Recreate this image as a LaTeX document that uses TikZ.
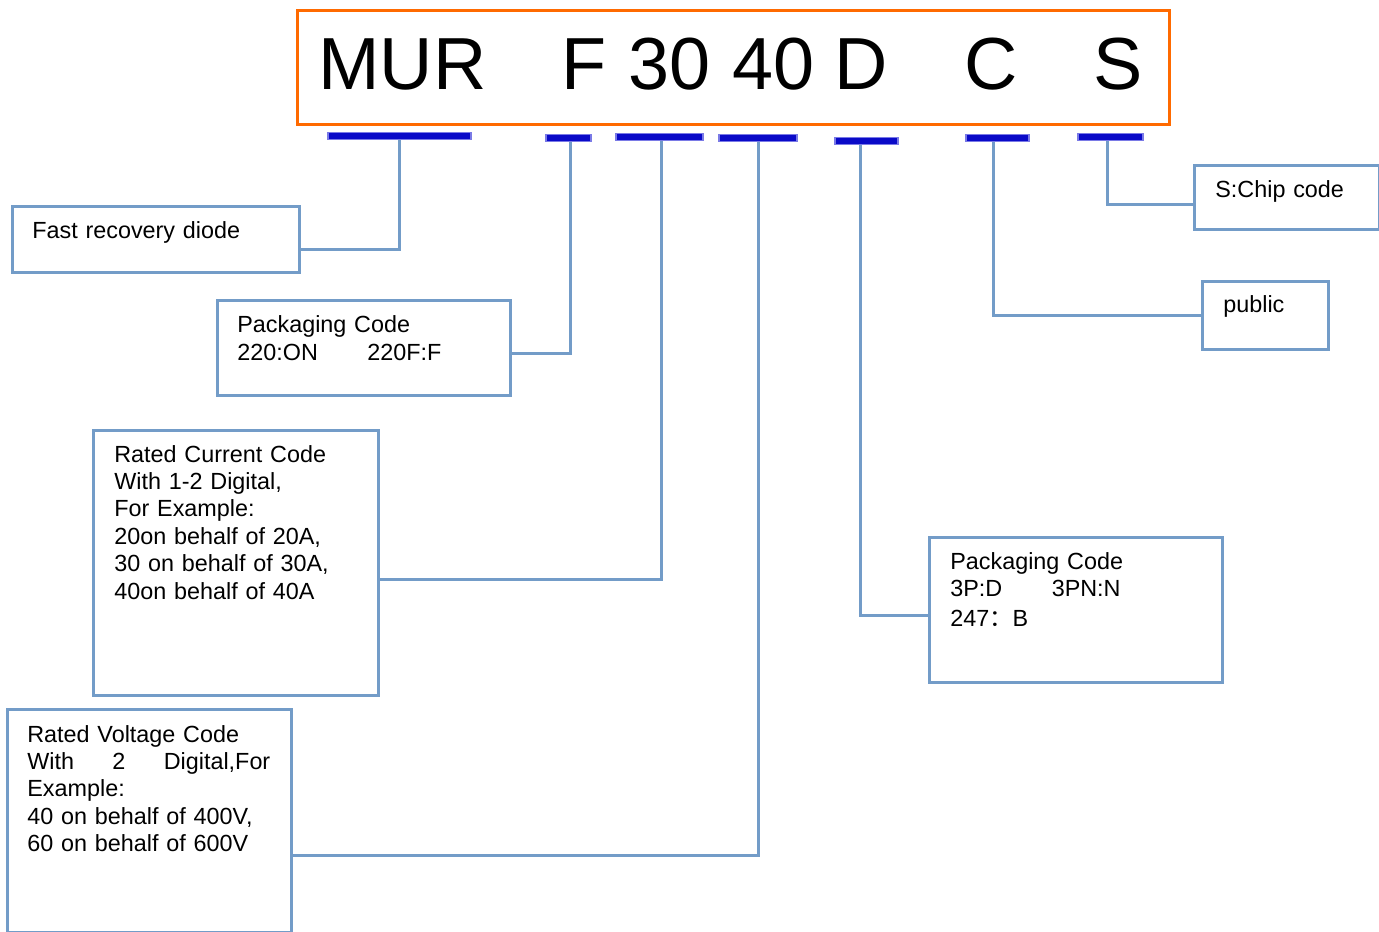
\documentclass[tikz,border=0pt]{standalone}
\usepackage{fontspec}
\setmainfont{Liberation Sans}
\newfontfamily\cjk{Noto Sans CJK SC}
\usetikzlibrary{positioning}
\definecolor{clrcode}{HTML}{FF6A00}
\definecolor{clrframe}{HTML}{739CC8}
\definecolor{clrbar}{HTML}{0A0AC8}
\definecolor{clrbaredge}{HTML}{7A7AE6}
\definecolor{clrtext}{HTML}{000000}

\begin{document}
\begin{tikzpicture}[
    x=0.02cm, y=-0.02cm,
    codebox/.style={draw=clrcode, line width=1.7pt, anchor=north west, inner sep=0pt},
    notebox/.style={draw=clrframe, line width=1.7pt, anchor=north west, inner sep=0pt},
    bar/.style={fill=clrbar, draw=clrbaredge, line width=0.8pt, inner sep=0pt, minimum height=0.15cm},
    link/.style={draw=clrframe, line width=1.7pt},
    codetext/.style={anchor=base west, inner sep=0pt, font=\fontsize{42}{50}\selectfont, text=clrtext},
    note/.style={anchor=base west, inner sep=0pt, text width=6cm, align=left,
                 font=\fontsize{13.3}{15.6}\selectfont, text=clrtext},
]
\useasboundingbox (0,0) rectangle (1379,932);
% part number
\node[codebox, minimum width=17.44cm, minimum height=2.28cm] (code) at (296,9) {};
\node[codetext] (tmur) at (318,90) {MUR};
\node[codetext] (tf) at (561,90) {F};
\node[codetext] (t30) at (628,90) {30};
\node[codetext] (t40) at (732,90) {40};
\node[codetext] (td) at (834,90) {D};
\node[codetext] (tc) at (964,90) {C};
\node[codetext] (ts) at (1093,90) {S};
% markers under the code
\node[bar, minimum width=2.86cm] (bmur) at (399.5,136) {};
\node[bar, minimum width=0.90cm] (bf) at (568.5,138) {};
\node[bar, minimum width=1.74cm] (b30) at (659.5,137) {};
\node[bar, minimum width=1.56cm] (b40) at (758,138) {};
\node[bar, minimum width=1.26cm] (bd) at (866.5,141) {};
\node[bar, minimum width=1.26cm] (bc) at (997.5,138) {};
\node[bar, minimum width=1.30cm] (bs) at (1110.5,137) {};
% note boxes
\node[notebox, minimum width=5.74cm, minimum height=1.32cm] (fastbox) at (11,205) {};
\node[note] (fasttxt) at (32,239) {Fast recovery diode};
\node[notebox, minimum width=5.86cm, minimum height=1.90cm] (pkgbox) at (216,299) {};
\node[note] (pkgtxt) at (237,333) {Packaging Code\\220:ON\hspace{0.99cm}220F:F};
\node[notebox, minimum width=5.70cm, minimum height=5.30cm] (curbox) at (92,429) {};
\node[note] (curtxt) at (114,462) {Rated Current Code\\With 1-2 Digital,\\For Example:\\20on behalf of 20A,\\30 on behalf of 30A,\\40on behalf of 40A};
\node[notebox, minimum width=5.68cm, minimum height=4.46cm] (voltbox) at (6,708) {};
\node[note] (volttxt) at (27,742) {Rated Voltage Code\\\makebox[4.86cm][l]{With\hfill 2\hfill Digital,For}\\Example:\\40 on behalf of 400V,\\60 on behalf of 600V};
\node[notebox, minimum width=5.86cm, minimum height=2.90cm] (pkg2box) at (928,536) {};
\node[note] (pkg2txt) at (950,569) {Packaging Code\\3P:D\hspace{0.99cm}3PN:N\\[1.5pt]247{\cjk ：}B};
\node[notebox, minimum width=2.52cm, minimum height=1.36cm] (pubbox) at (1201,280) {};
\node[note] (pubtxt) at (1223,313) {public};
\node[notebox, minimum width=3.70cm, minimum height=1.28cm] (chipbox) at (1193,164) {};
\node[note] (chiptxt) at (1215,198) {S:Chip code};
% connectors
\draw[link] (bmur.south) |- ([yshift=-0.2cm]fastbox.east);
\draw[link] ([xshift=0.03cm]bf.south) |- ([yshift=-0.11cm]pkgbox.east);
\draw[link] ([xshift=0.03cm]b30.south) |- ([yshift=-0.33cm]curbox.east);
\draw[link] (b40.south) |- ([yshift=-0.69cm]voltbox.east);
\draw[link] ([xshift=-0.13cm]bd.south) |- ([yshift=-0.11cm]pkg2box.west);
\draw[link] ([xshift=-0.09cm]bc.south) |- (pubbox.west);
\draw[link] ([xshift=-0.07cm]bs.south) |- ([yshift=-0.14cm]chipbox.west);
\end{tikzpicture}
\end{document}
